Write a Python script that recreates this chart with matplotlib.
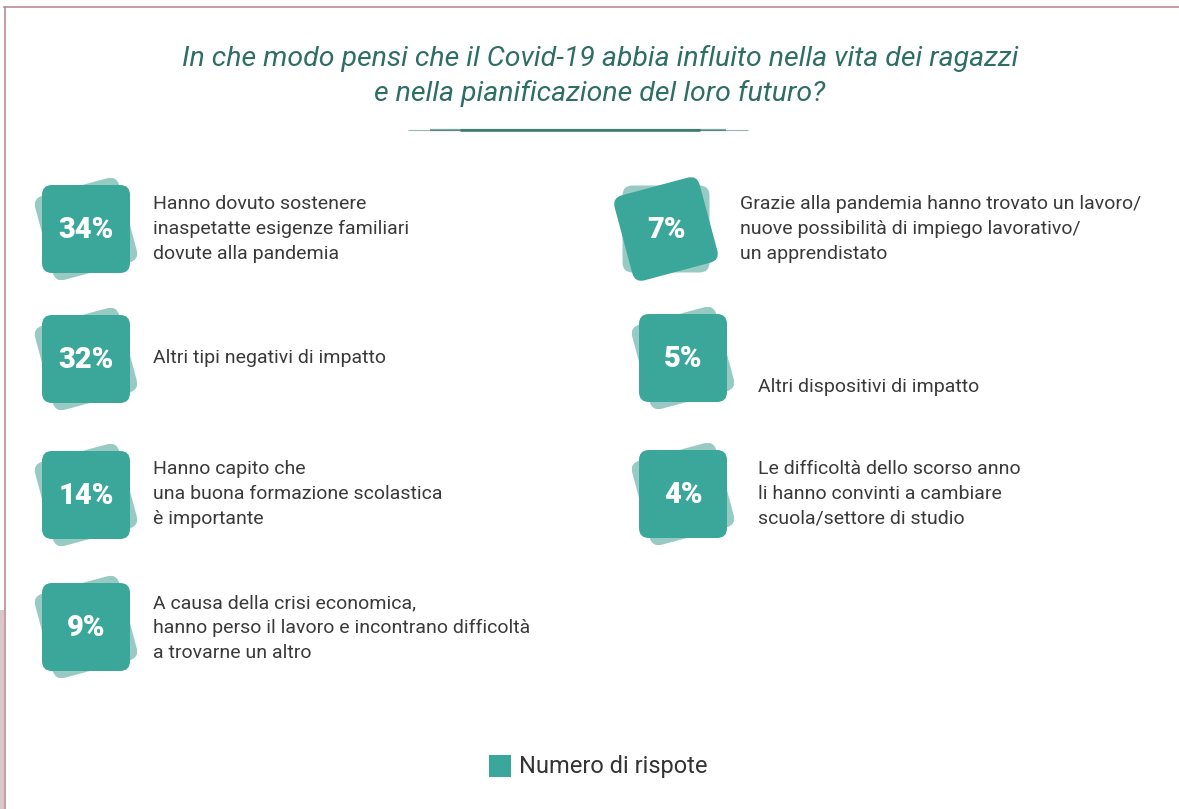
import matplotlib.pyplot as plt
from matplotlib.patches import FancyBboxPatch, Rectangle
from matplotlib.transforms import Affine2D

# dati
title = "In che modo pensi che il Covid-19 abbia influito nella vita dei ragazzi\ne nella pianificazione del loro futuro?"
values = [34, 32, 14, 9, 7, 5, 4]
labels = [
    "Hanno dovuto sostenere\ninaspetatte esigenze familiari\ndovute alla pandemia",
    "Altri tipi negativi di impatto",
    "Hanno capito che\nuna buona formazione scolastica\nè importante",
    "A causa della crisi economica,\nhanno perso il lavoro e incontrano difficoltà\na trovarne un altro",
    "Grazie alla pandemia hanno trovato un lavoro/\nnuove possibilità di impiego lavorativo/\nun apprendistato",
    "Altri dispositivi di impatto",
    "Le difficoltà dello scorso anno\nli hanno convinti a cambiare\nscuola/settore di studio",
]
legend_label = "Numero di rispote"

# layout (pixel)
badge_xy = [(86, 229), (86, 359), (86, 495), (86, 627), (666, 229), (683, 358), (683, 494)]
label_xy = [(153, 229), (153, 358), (153, 494), (153, 628), (740, 229), (758, 387), (758, 494)]
front_rot = [0, 0, 0, 0, -15, 0, 0]
back_rot = [-15, -15, -15, -15, 0, -15, -15]

TEAL = "#3ba79a"
TEAL_LIGHT = "#8cc5bc"
DARK = "#2e6e64"
TXT = "#3a3a3a"

plt.rcParams['font.family'] = ['Roboto', 'DejaVu Sans']

fig = plt.figure(figsize=(11.79, 8.09), dpi=100)
ax = fig.add_axes([0, 0, 1, 1])
ax.set_xlim(0, 1179)
ax.set_ylim(809, 0)
ax.axis('off')

# cornice
ax.plot([4, 1179], [7, 7], color="#b98c94", lw=1.2)
ax.plot([5, 5], [7, 809], color="#b98c94", lw=1.2)
ax.add_patch(Rectangle((0, 610), 4, 199, color="#dcc6c9", lw=0))

# titolo
ax.text(600, 76, title, ha='center', va='center', fontsize=20.5, style='italic',
        color=DARK, linespacing=1.4)

# linea sotto il titolo (sfumata)
ax.plot([408, 748], [130, 130], color=DARK, lw=0.8, alpha=0.5, solid_capstyle='butt')
ax.plot([430, 726], [130, 130], color=DARK, lw=1.6, alpha=0.6, solid_capstyle='butt')
ax.plot([460, 700], [130, 130], color=DARK, lw=2.2, alpha=0.7, solid_capstyle='butt')


def rounded_square(cx, cy, size, angle, color, alpha=1.0):
    p = FancyBboxPatch((cx - size / 2, cy - size / 2), size, size,
                       boxstyle="round,pad=0,rounding_size=10",
                       fc=color, ec='none', alpha=alpha)
    p.set_transform(Affine2D().rotate_deg_around(cx, cy, angle) + ax.transData)
    ax.add_patch(p)


for v, lab, (bx, by), (lx, ly), fr, br in zip(values, labels, badge_xy, label_xy, front_rot, back_rot):
    rounded_square(bx, by, 87, br, TEAL_LIGHT, 0.9)
    rounded_square(bx, by, 88, fr, TEAL)
    ax.text(bx, by + 1, f"{v}%", ha='center', va='center', fontsize=21,
            fontweight='heavy', color='white')
    ax.text(lx, ly, lab, ha='left', va='center', fontsize=14, color=TXT,
            linespacing=1.48)

# legenda
ax.add_patch(Rectangle((489, 755), 22, 22, color=TEAL, lw=0))
ax.text(519, 766, legend_label, ha='left', va='center', fontsize=17, color="#333333")

fig.savefig("out.png", dpi=100)
